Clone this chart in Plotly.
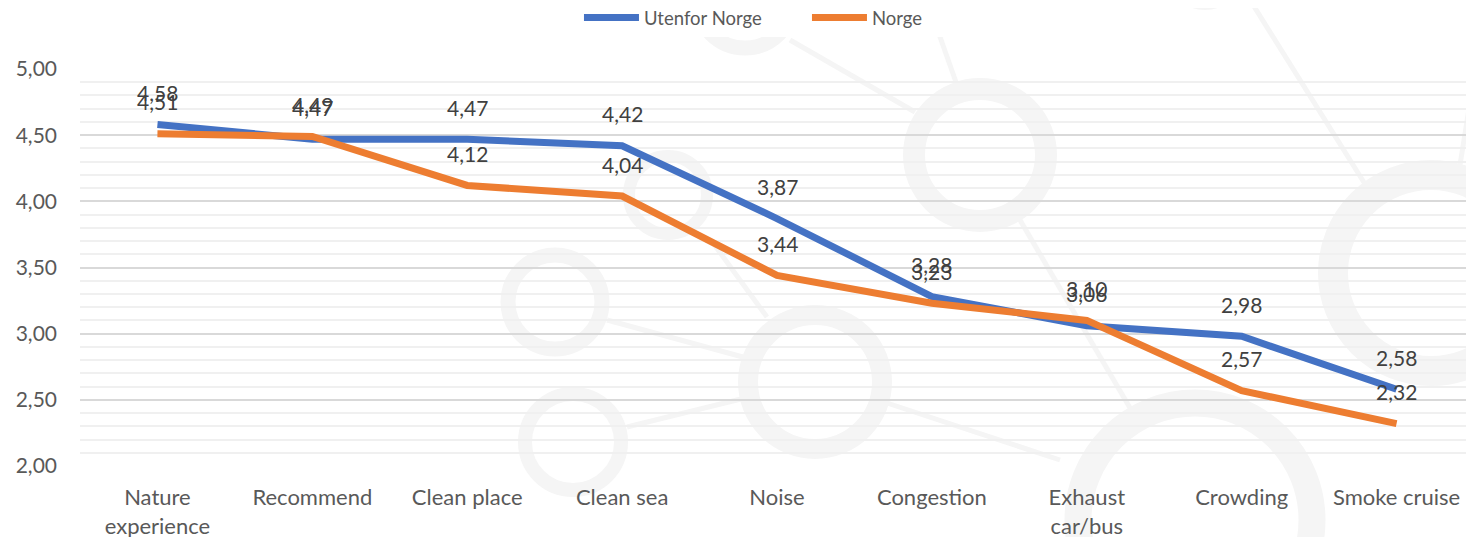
import plotly.graph_objects as go

categories = ["Nature<br>experience", "Recommend", "Clean place", "Clean sea", "Noise",
              "Congestion", "Exhaust<br>car/bus", "Crowding", "Smoke cruise"]
utenfor_norge = [4.58, 4.47, 4.47, 4.42, 3.87, 3.28, 3.06, 2.98, 2.58]
norge = [4.51, 4.49, 4.12, 4.04, 3.44, 3.23, 3.10, 2.57, 2.32]

# page has an 8px body margin, so the figure is sized/offset to compensate
OFF = 8
W, H = 1474 - OFF, 537 - OFF
L, R, T, B = 80 - OFF, 0, 69 - OFF, 71
FONT = "Lato"

fig = go.Figure()
fig.add_trace(go.Scatter(x=categories, y=utenfor_norge, name="Utenfor Norge", mode="lines",
                         line=dict(color="#4472C4", width=7)))
fig.add_trace(go.Scatter(x=categories, y=norge, name="Norge", mode="lines",
                         line=dict(color="#ED7D31", width=7)))

# data labels above points
for vals in (utenfor_norge, norge):
    for c, v in zip(categories, vals):
        fig.add_annotation(x=c, y=v, text=f"{v:.2f}".replace(".", ","), showarrow=False,
                           yshift=32, font=dict(family=FONT, size=21, color="#404040"))

# faint background watermark (circles and connecting lines), page pixel coords
def px(x):
    return (x - OFF - L) / (W - L - R)

def py(y):
    return 1 - (y - OFF - T) / (H - T - B)

# (cx, cy, mid radius, ring thickness)
rings = [(745, 0, 48, 15), (980, 155, 66, 22), (668, 195, 39, 12), (555, 302, 47, 15),
         (573, 442, 48, 14), (815, 382, 67, 20), (1195, 520, 117, 27), (1431, 273, 98, 30),
         (1205, -30, 34, 12)]
for cx, cy, r, w in rings:
    fig.add_shape(type="circle", xref="paper", yref="paper", layer="below",
                  x0=px(cx - r), x1=px(cx + r), y0=py(cy + r), y1=py(cy - r),
                  line=dict(color="#f5f5f5", width=w))
links = [(790, 40, 915, 112), (927, 0, 957, 85), (1250, 0, 1375, 200), (713, 243, 767, 317),
         (607, 320, 743, 357), (627, 427, 745, 398), (887, 403, 1060, 460), (1020, 220, 1133, 413),
         (1472, 90, 1460, 165)]
for x0, y0, x1, y1 in links:
    fig.add_shape(type="line", xref="paper", yref="paper", layer="below",
                  x0=px(x0), x1=px(x1), y0=py(y0), y1=py(y1),
                  line=dict(color="#f5f5f5", width=5))

fig.update_layout(
    width=W, height=H,
    margin=dict(l=L, r=R, t=T, b=B, autoexpand=False),
    paper_bgcolor="white", plot_bgcolor="rgba(0,0,0,0)",
    font=dict(family=FONT, size=21, color="#595959"),
    legend=dict(orientation="h", x=0.5215, xanchor="center", yref="container",
                y=1 - (18 - OFF) / H, yanchor="middle", itemwidth=55, entrywidth=158,
                font=dict(size=18.5, color="#595959")),
    showlegend=True,
    separators=", ",
)
fig.update_xaxes(type="category", range=[-0.5, 8.5], showgrid=False, showline=False,
                 zeroline=False, ticks="", automargin=False, ticklabelstandoff=16,
                 tickfont=dict(size=22, color="#595959"))
fig.update_yaxes(range=[2, 5], dtick=0.5, tickformat=".2f",
                 showgrid=True, gridcolor="#d9d9d9", gridwidth=1.5, zeroline=False,
                 ticks="", automargin=False, tickfont=dict(size=21, color="#595959"),
                 ticklabelstandoff=22,
                 minor=dict(dtick=0.1, showgrid=True, gridcolor="#f0f0f0", gridwidth=1.5))
fig.write_html("out.html")
